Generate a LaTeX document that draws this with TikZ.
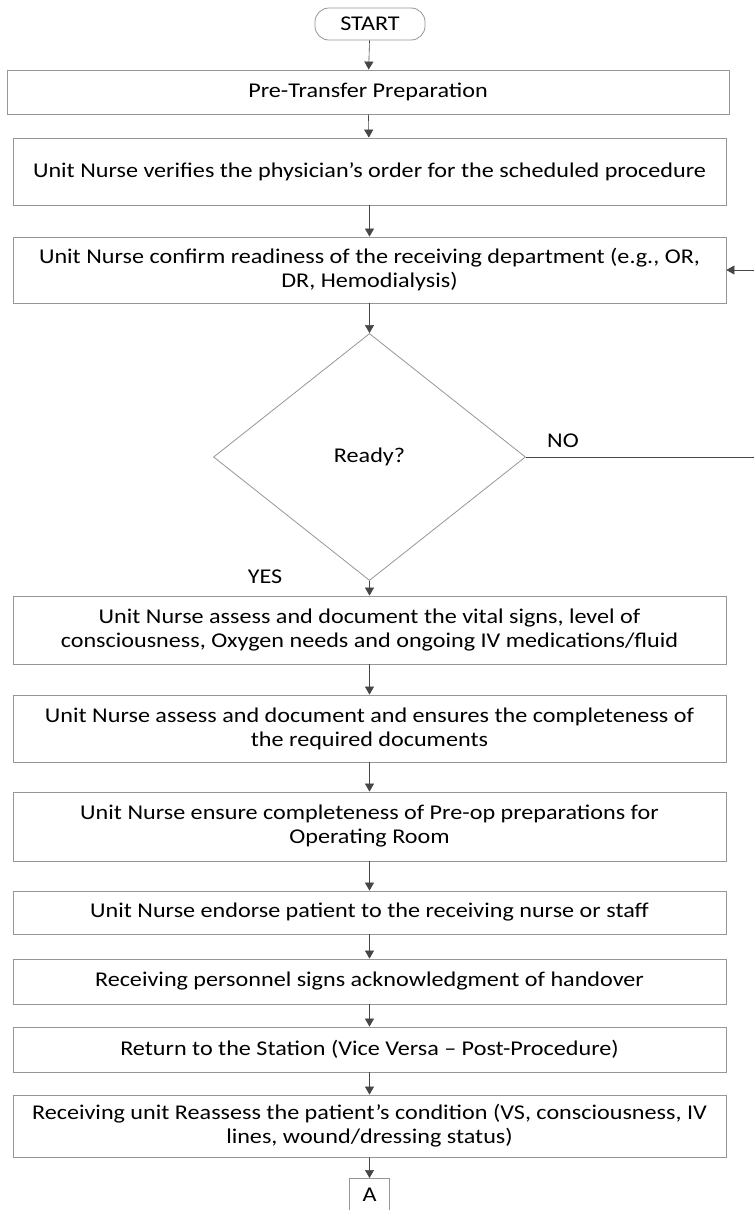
\documentclass[tikz,border=0pt]{standalone}
\usepackage{fontspec}
\setmainfont{Carlito}[FakeStretch=1.15]
\usetikzlibrary{shapes.geometric, shapes.symbols, arrows.meta, positioning}
\definecolor{boxgray}{RGB}{150, 150, 150}
\definecolor{arrowgray}{RGB}{70, 70, 70}

\begin{document}
\begin{tikzpicture}[
  x=1pt, y=-1pt,
  every node/.style={font=\fontsize{21}{24}\selectfont, text=black},
  procbox/.style={draw=boxgray, line width=0.8pt, minimum width=713pt, align=center, inner sep=0pt},
  decision/.style={draw=boxgray, line width=0.8pt, diamond, minimum width=312pt, minimum height=247pt, inner sep=0pt},
  arrow/.style={-{Triangle[length=8pt, width=9pt]}, draw=arrowgray, line width=0.6pt}
]
  \useasboundingbox (0,0) rectangle (753,1210);

  % Start
  \node[draw=boxgray, line width=0.8pt, rounded corners=14pt, minimum width=110pt, minimum height=32pt] (start) at (370, 24) {START};

  % Preparation steps
  \node[procbox, minimum width=722pt, minimum height=44pt] (prep) at (368, 92) {Pre-Transfer Preparation};
  \node[procbox, minimum height=67pt] (order) at (369.5, 171.5) {Unit Nurse verifies the physician’s order for the scheduled procedure};
  \node[procbox, minimum height=66pt] (confirm) at (369.5, 270) {Unit Nurse confirm readiness of the receiving department (e.g., OR,\\DR, Hemodialysis)};

  % Decision
  \node[decision] (ready) at (369.5, 457) {Ready?};

  % Transfer steps
  \node[procbox, minimum height=68pt] (vitals) at (369.5, 630) {Unit Nurse assess and document the vital signs, level of\\consciousness, Oxygen needs and ongoing IV medications/fluid};
  \node[procbox, minimum height=67pt] (docs) at (369.5, 728.5) {Unit Nurse assess and document and ensures the completeness of\\the required documents};
  \node[procbox, minimum height=69pt] (preop) at (369.5, 826.5) {Unit Nurse ensure completeness of Pre-op preparations for\\Operating Room};
  \node[procbox, minimum height=43pt] (endorse) at (369.5, 912.5) {Unit Nurse endorse patient to the receiving nurse or staff};
  \node[procbox, minimum height=45pt] (ack) at (369.5, 981.5) {Receiving personnel signs acknowledgment of handover};
  \node[procbox, minimum height=45pt] (return) at (369.5, 1049.5) {Return to the Station (Vice Versa – Post-Procedure)};
  \node[procbox, minimum height=62pt] (reassess) at (369.5, 1126) {Receiving unit Reassess the patient’s condition (VS, consciousness, IV\\lines, wound/dressing status)};

  % Off-page connector
  \node[draw=boxgray, line width=0.8pt, signal, signal to=south, signal pointer angle=120, minimum width=40pt, inner xsep=4pt, inner ysep=3pt, text height=20pt, text depth=20pt, anchor=north] (conA) at (369.5, 1178) {A};

  \draw[arrow] (start) -- (prep);
  \draw[arrow] (prep) -- (order);
  \draw[arrow] (order) -- (confirm);
  \draw[arrow] (confirm) -- (ready);
  \draw[arrow] (ready) -- (vitals);
  \draw[arrow] (vitals) -- (docs);
  \draw[arrow] (docs) -- (preop);
  \draw[arrow] (preop) -- (endorse);
  \draw[arrow] (endorse) -- (ack);
  \draw[arrow] (ack) -- (return);
  \draw[arrow] (return) -- (reassess);
  \draw[arrow] (reassess) -- (conA);

  % Not ready: back to confirmation
  \coordinate (loopR) at (770, 457);
  \draw[arrow] (ready.east) -- (loopR) |- (confirm.east);
  \node (no) at (563, 441) {NO};
  \node (yes) at (265, 577) {YES};
\end{tikzpicture}
\end{document}
